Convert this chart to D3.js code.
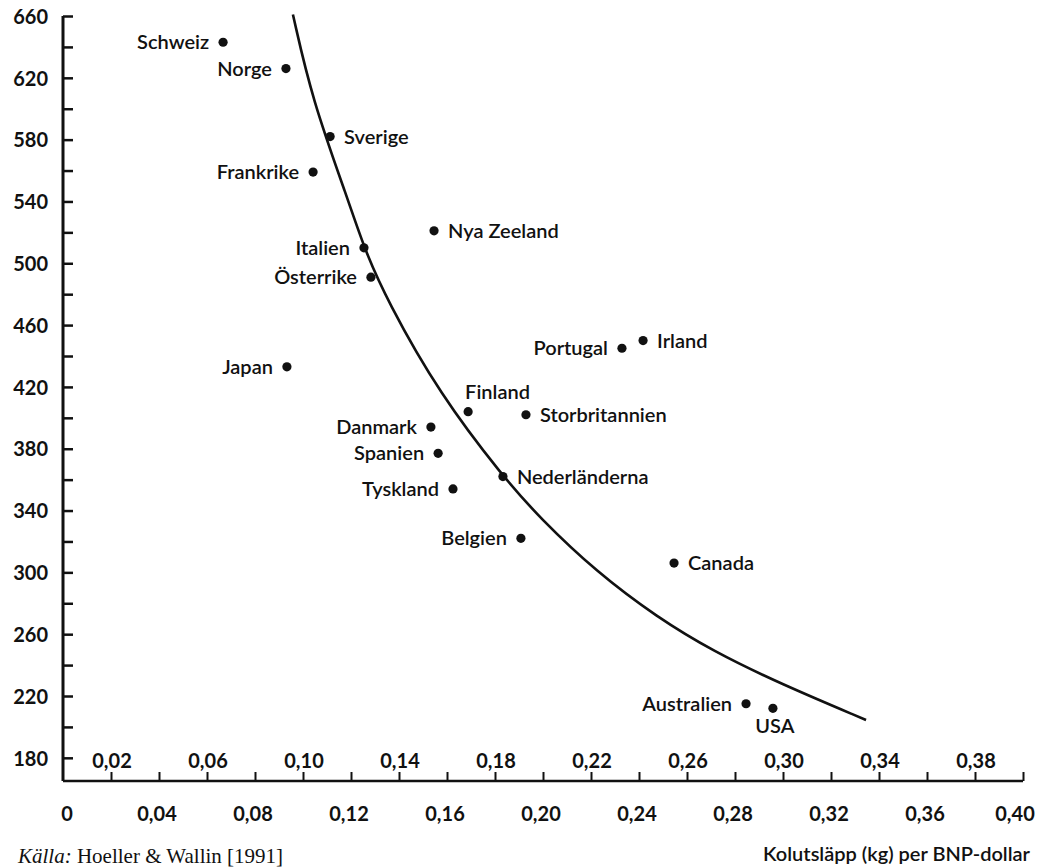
<!DOCTYPE html>
<html>
<head>
<meta charset="utf-8">
<script src="https://cdn.jsdelivr.net/npm/d3@7"></script>
<style>
  body { margin: 0; background: #fff; }
  svg { display: block; }
  text { font-family: Lato, "Noto Sans", sans-serif; font-weight: 700; fill: #111; }
</style>
</head>
<body>
<svg width="1049" height="868"></svg>
<script>
// countries, emission per BNP-dollar (x) and the y value
const countries = ['Schweiz', 'Norge', 'Sverige', 'Frankrike', 'Nya Zeeland', 'Italien', 'Österrike',
  'Japan', 'Irland', 'Portugal', 'Finland', 'Storbritannien', 'Danmark', 'Spanien', 'Tyskland',
  'Nederländerna', 'Belgien', 'Canada', 'Australien', 'USA'];
const xValues = [0.0667, 0.0929, 0.1113, 0.1042, 0.1546, 0.1254, 0.1283,
  0.0933, 0.2417, 0.2329, 0.1688, 0.1929, 0.1533, 0.1563, 0.1625,
  0.1833, 0.1908, 0.2546, 0.2846, 0.2958];
const yValues = [643, 626, 582, 559, 521, 510, 491,
  433, 450, 445, 404, 402, 394, 377, 354,
  362, 322, 306, 215, 212];
// where each name sits: l = left, r = right, a = above, b = below
const labelSide = ['l', 'l', 'r', 'l', 'r', 'l', 'l',
  'l', 'r', 'l', 'a', 'r', 'l', 'l', 'l',
  'r', 'l', 'r', 'l', 'b'];

// the drawn curve
const curveX = [0.0958, 0.1038, 0.1188, 0.1254, 0.135, 0.1571, 0.1833, 0.1988, 0.2225, 0.2475, 0.2708, 0.2988, 0.3346];
const curveY = [661, 606, 541, 510, 476, 415, 362, 335, 300, 271, 249, 228, 204.5];

// ticks
const yLabelTicks = [180, 220, 260, 300, 340, 380, 420, 460, 500, 540, 580, 620, 660];
const yMinorTicks = [200, 240, 280, 320, 360, 400, 440, 480, 520, 560, 600, 640];
const xTicks = [0.02, 0.04, 0.06, 0.08, 0.10, 0.12, 0.14, 0.16, 0.18, 0.20,
  0.22, 0.24, 0.26, 0.28, 0.30, 0.32, 0.34, 0.36, 0.38, 0.40];
const xUpperLabels = [0.02, 0.06, 0.10, 0.14, 0.18, 0.22, 0.26, 0.30, 0.34, 0.38];
const xLowerLabels = [0, 0.04, 0.08, 0.12, 0.16, 0.20, 0.24, 0.28, 0.32, 0.36, 0.40];

const svg = d3.select('svg');

const x = d3.scaleLinear().domain([0, 0.40]).range([63, 1023]);
const y = d3.scaleLinear().domain([165, 660]).range([781, 16]);

const comma = v => v === 0 ? '0' : d3.format('.2f')(v).replace('.', ',');

// y axis
const yAxis = svg.append('g')
    .attr('transform', `translate(${x(0)},0)`)
    .call(d3.axisLeft(y)
      .tickValues(yLabelTicks.concat(yMinorTicks))
      .tickSizeInner(-10)
      .tickSizeOuter(0)
      .tickFormat(d => yLabelTicks.includes(d) ? d : ''));
yAxis.select('.domain').attr('d', `M0,${y(660)}V${y(165)}`)
    .attr('stroke', '#111').attr('stroke-width', 3);
yAxis.selectAll('.tick line').attr('stroke', '#111').attr('stroke-width', 2.5);
yAxis.selectAll('.tick text')
    .attr('x', -15)
    .attr('dy', '0.36em')
    .style('font-size', '20px')
    .style('font-family', 'Lato, sans-serif')
    .style('font-weight', 700)
    .attr('fill', '#111');

// x axis, ticks pointing up
const xAxis = svg.append('g')
    .attr('transform', `translate(0,${y(165)})`)
    .call(d3.axisBottom(x)
      .tickValues(xTicks)
      .tickSizeInner(-9)
      .tickSizeOuter(0)
      .tickFormat(''));
xAxis.select('.domain').attr('d', `M${x(0)},0H${x(0.40)}`)
    .attr('stroke', '#111').attr('stroke-width', 2.5);
xAxis.selectAll('.tick line').attr('stroke', '#111').attr('stroke-width', 2);
xAxis.selectAll('.tick text').remove();

svg.append('g').selectAll('text')
  .data(xUpperLabels)
  .join('text')
    .attr('x', d => x(d) + 1)
    .attr('y', y(165) - 13)
    .attr('text-anchor', 'middle')
    .style('font-size', '20px')
    .text(comma);

svg.append('g').selectAll('text')
  .data(xLowerLabels)
  .join('text')
    .attr('x', d => x(d) + (d === 0 ? 4 : d === 0.40 ? -8 : -2))
    .attr('y', y(165) + 40)
    .attr('text-anchor', 'middle')
    .style('font-size', '20px')
    .text(comma);

// axis title and source
svg.append('text')
    .attr('x', 1030)
    .attr('y', 861)
    .attr('text-anchor', 'end')
    .style('font-size', '20px')
    .style('font-weight', 600)
    .text('Kolutsläpp (kg) per BNP-dollar');

const src = svg.append('text')
    .attr('x', 18)
    .attr('y', 863)
    .style('font-family', '"Liberation Serif", serif')
    .style('font-weight', 400)
    .style('font-size', '21px');
src.append('tspan').style('font-style', 'italic').text('Källa:');
src.append('tspan').text(' Hoeller & Wallin [1991]');

// curve
const pts = curveX.map((d, i) => [d, curveY[i]]);
svg.append('path')
    .datum(pts)
    .attr('fill', 'none')
    .attr('stroke', '#111')
    .attr('stroke-width', 2.6)
    .attr('d', d3.line()
      .x(d => x(d[0]))
      .y(d => y(d[1]))
      .curve(d3.curveBasis));

// points and names
const pts2 = countries.map((c, i) => ({ c, x: xValues[i], y: yValues[i], s: labelSide[i] }));

svg.append('g').selectAll('circle')
  .data(pts2)
  .join('circle')
    .attr('cx', d => x(d.x))
    .attr('cy', d => y(d.y))
    .attr('r', 4.6)
    .attr('fill', '#111');

svg.append('g').selectAll('text')
  .data(pts2)
  .join('text')
    .attr('x', d => {
      const cx = x(d.x);
      if (d.s === 'l') return cx - 14;
      if (d.s === 'r') return cx + 14;
      if (d.s === 'a') return cx - 3;
      return cx + 2;
    })
    .attr('y', d => {
      const cy = y(d.y);
      if (d.s === 'a') return cy - 13;
      if (d.s === 'b') return cy + 25;
      return cy + 7;
    })
    .attr('text-anchor', d => d.s === 'l' ? 'end' : d.s === 'b' ? 'middle' : 'start')
    .style('font-size', '20px')
    .style('font-weight', 600)
    .text(d => d.c);
</script>
</body>
</html>
